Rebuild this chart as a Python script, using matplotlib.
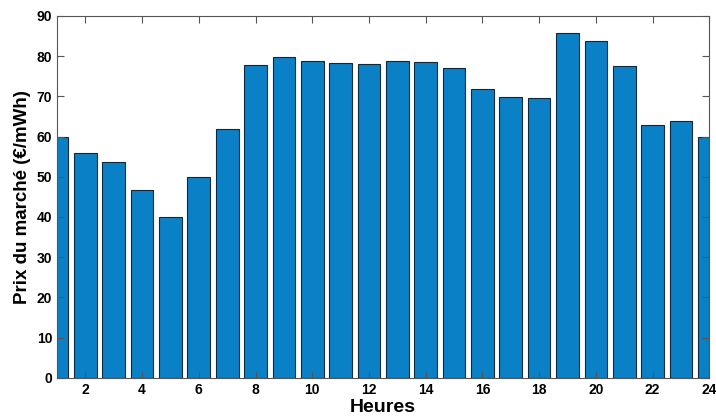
"""
Prix du marché horaire (bar chart)
"""
import matplotlib
matplotlib.use('Agg')
import matplotlib.pyplot as plt
import numpy as np

# data
HOURS  = np.arange(1, 25)
PRICES = [60.0, 55.8, 53.6, 46.6, 40.0, 50.0, 62.0, 77.8, 79.8, 78.7, 78.2, 78.0,
          78.7, 78.5, 77.0, 71.8, 69.9, 69.5, 85.8, 83.9, 77.5, 63.0, 63.8, 60.0]
XTICKS = list(range(2, 25, 2))
YTICKS = list(range(0, 91, 10))

# figure variables
BAR_COLOR  = '#0a80c6'
EDGE_COLOR = '#0b2a40'
AXIS_COLOR = '#555555'
PLOT_DPI   = 100

plt.rcParams['font.family'] = ['Liberation Sans', 'DejaVu Sans']

fig = plt.figure(figsize=(7.16, 4.16), dpi=PLOT_DPI, facecolor='w')
axes = fig.add_axes([57 / 716, 1 - 377.7 / 416, 652.3 / 716, 361.7 / 416])

axes.bar(HOURS, PRICES, width=0.8, color=BAR_COLOR, edgecolor=EDGE_COLOR, linewidth=0.8)

axes.set_xlim(1, 24)
axes.set_ylim(0, 90)
axes.set_xticks(XTICKS)
axes.set_yticks(YTICKS)
axes.tick_params(axis='both', direction='in', top=True, right=True, length=5,
                 width=0.8, color=AXIS_COLOR, labelsize=10)
for lab in axes.get_xticklabels() + axes.get_yticklabels():
    lab.set_fontweight('bold')
for sp in axes.spines.values():
    sp.set_color(AXIS_COLOR)
    sp.set_linewidth(0.8)

axes.set_xlabel('Heures', fontsize=14, fontweight='bold', labelpad=2)
axes.set_ylabel('Prix du marché (€/mWh)', fontsize=13.5, fontweight='bold', labelpad=4)

plt.savefig('out.png', dpi=PLOT_DPI)
plt.close(fig)
